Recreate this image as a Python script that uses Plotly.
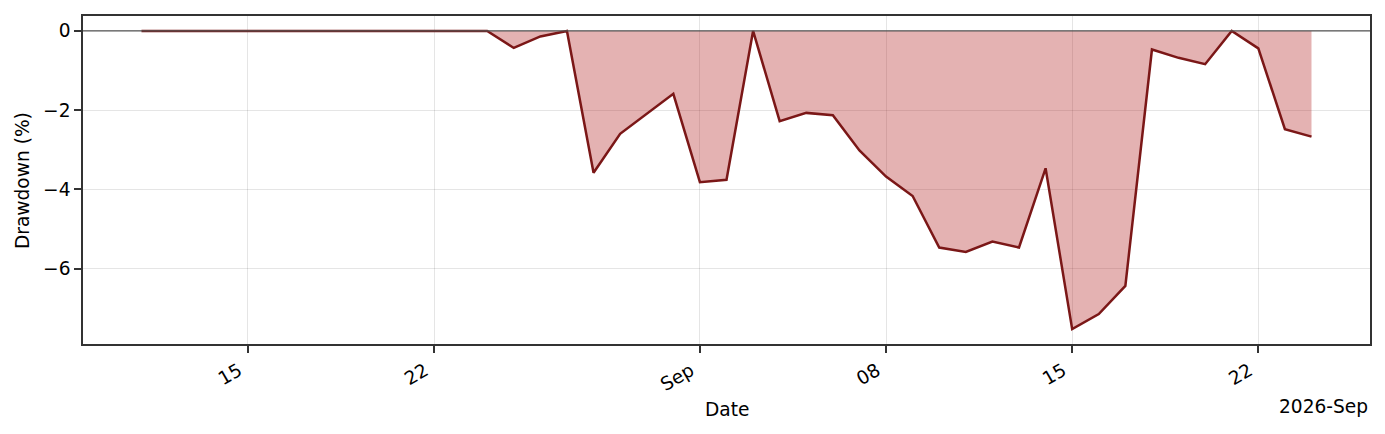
import plotly.graph_objects as go
import pandas as pd

# ---- data ----
start_date = "2026-08-11"
end_date = "2026-09-24"
drawdown_pct = [
    0, 0, 0, 0, 0, 0, 0, 0, 0, 0, 0, 0, 0, 0,      # Aug 11 - Aug 24
    -0.43, -0.14, 0, -3.58, -2.60, -2.10, -1.59,   # Aug 25 - Aug 31
    -3.82, -3.76, 0, -2.28, -2.07, -2.13, -3.02,   # Sep 1 - Sep 7
    -3.68, -4.17, -5.47, -5.58, -5.32, -5.47, -3.47,  # Sep 8 - Sep 14
    -7.53, -7.15, -6.44, -0.47, -0.68, -0.84, 0,   # Sep 15 - Sep 21
    -0.44, -2.48, -2.67,                           # Sep 22 - Sep 24
]
tick_dates = ["2026-08-15", "2026-08-22", "2026-09-01", "2026-09-08", "2026-09-15", "2026-09-22"]
tick_labels = ["15", "22", "Sep", "08", "15", "22"]
y_ticks = [0, -2, -4, -6]
offset_label = "2026-Sep"
x_title = "Date"
y_title = "Drawdown (%)"

dates = pd.date_range(start_date, end_date, freq="D")

FONT = "DejaVu Sans"
FS = 18.6

fig = go.Figure()
fig.add_trace(go.Scatter(
    x=dates, y=drawdown_pct, mode="lines",
    line=dict(color="#7b1717", width=2.5),
    fill="tozeroy", fillcolor="rgba(178,34,34,0.35)",
    hoverinfo="skip", showlegend=False,
))

# axis ranges with matplotlib-like 5% margins
span = dates[-1] - dates[0]
x0 = dates[0] - span * 0.05
x1 = dates[-1] + span * 0.05
ymin, ymax = min(drawdown_pct), max(drawdown_pct)
yspan = ymax - ymin
y0 = ymin - yspan * 0.05
y1 = ymax + yspan * 0.05

fig.add_shape(type="line", xref="paper", yref="y", x0=0, x1=1, y0=0, y1=0,
              line=dict(color="#555555", width=1.2), layer="above")

# page body has an 8px margin, so the figure is sized/offset to compensate
fig.update_layout(
    width=1377, height=426,
    margin=dict(l=75, r=15, t=6, b=90),
    paper_bgcolor="white", plot_bgcolor="white",
    font=dict(family=FONT, size=FS, color="black"),
    xaxis=dict(
        type="date", range=[x0, x1],
        tickmode="array", tickvals=tick_dates, ticktext=tick_labels,
        tickangle=-30, ticklabelshift=-9,
        ticks="outside", ticklen=7, tickwidth=1.5, tickcolor="#333333",
        showgrid=True, gridcolor="rgba(0,0,0,0.1)", gridwidth=1.2,
        showline=True, linecolor="#333333", linewidth=1.6, mirror=True,
        zeroline=False, tickfont=dict(family=FONT, size=FS, color="black"),
    ),
    yaxis=dict(
        range=[y0, y1],
        tickmode="array", tickvals=y_ticks,
        ticks="outside", ticklen=7, tickwidth=1.5, tickcolor="#333333",
        showgrid=True, gridcolor="rgba(0,0,0,0.1)", gridwidth=1.2,
        showline=True, linecolor="#333333", linewidth=1.6, mirror=True,
        zeroline=False, tickfont=dict(family=FONT, size=FS, color="black"),
    ),
    annotations=[
        dict(text=x_title, xref="paper", yref="paper", x=0.5, y=-0.2,
             xanchor="center", yanchor="middle", showarrow=False,
             font=dict(family=FONT, size=FS, color="black")),
        dict(text=offset_label, xref="paper", yref="paper", x=1.0, y=-0.19,
             xanchor="right", yanchor="middle", showarrow=False,
             font=dict(family=FONT, size=FS, color="black")),
        dict(text=y_title, xref="paper", yref="paper", x=-0.0474, y=0.5,
             xanchor="center", yanchor="middle", showarrow=False, textangle=-90,
             font=dict(family=FONT, size=FS, color="black")),
    ],
)

fig.write_html("out.html")
